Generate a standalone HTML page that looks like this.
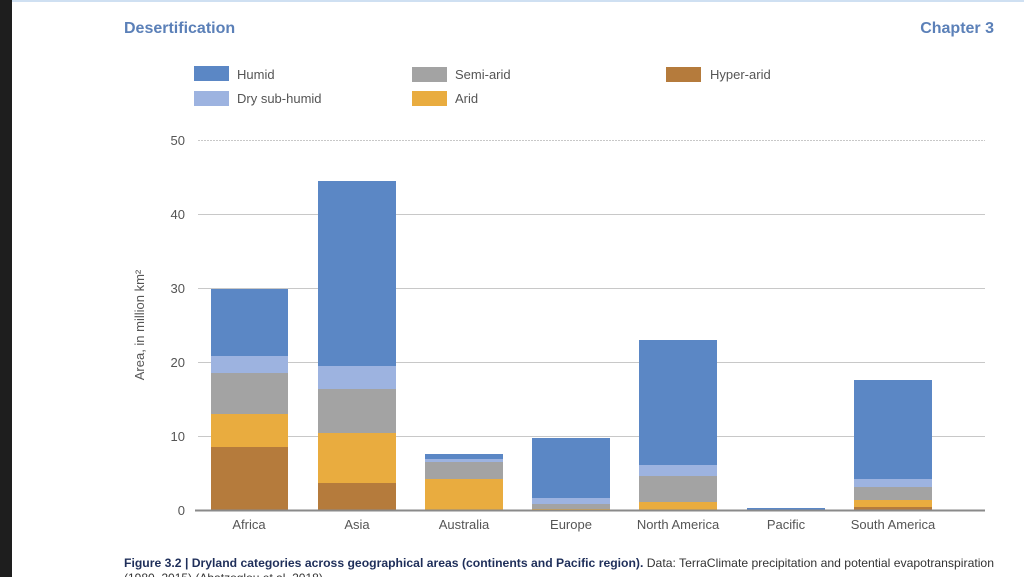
<!DOCTYPE html>
<html><head><style>
body{margin:0;background:#fff;}
svg{display:block;font-family:"Liberation Sans",sans-serif;}
</style></head><body>
<svg width="1024" height="577" viewBox="0 0 1024 577">
<rect width="1024" height="577" fill="#fff"/>
<rect x="0" y="0" width="12" height="577" fill="#1e1e1e"/>
<rect x="12" y="0" width="1012" height="2" fill="#cfe0f2"/>
<text x="124" y="33" font-size="16" font-weight="bold" fill="#5b80b8">Desertification</text>
<text x="994" y="33" font-size="16" font-weight="bold" fill="#5b80b8" text-anchor="end">Chapter 3</text>
<g font-size="13" fill="#555">
<rect x="194" y="66" width="35" height="15" fill="#5b87c5"/><text x="237" y="79">Humid</text>
<rect x="194" y="91" width="35" height="15" fill="#9db3e0"/><text x="237" y="103">Dry sub-humid</text>
<rect x="412" y="67" width="35" height="15" fill="#a3a3a3"/><text x="455" y="79">Semi-arid</text>
<rect x="412" y="91" width="35" height="15" fill="#e9ac3f"/><text x="455" y="103">Arid</text>
<rect x="666" y="67" width="35" height="15" fill="#b57b3c"/><text x="710" y="79">Hyper-arid</text>
</g>
<g stroke="#c8c8c8" stroke-width="1">
<line x1="198" y1="140.5" x2="985" y2="140.5" stroke-dasharray="2,1"/>
<line x1="198" y1="214.5" x2="985" y2="214.5"/>
<line x1="198" y1="288.5" x2="985" y2="288.5"/>
<line x1="198" y1="362.5" x2="985" y2="362.5"/>
<line x1="198" y1="436.5" x2="985" y2="436.5"/>
</g>
<g font-size="13" fill="#555" text-anchor="end">
<text x="185" y="145">50</text><text x="185" y="219">40</text><text x="185" y="293">30</text>
<text x="185" y="367">20</text><text x="185" y="441">10</text><text x="185" y="515">0</text>
</g>
<text transform="translate(144,325) rotate(-90)" font-size="13" fill="#555" text-anchor="middle">Area, in million km²</text>
<rect x="211" y="289" width="77" height="67" fill="#5b87c5"/>
<rect x="211" y="356" width="77" height="17" fill="#9db3e0"/>
<rect x="211" y="373" width="77" height="41" fill="#a3a3a3"/>
<rect x="211" y="414" width="77" height="33" fill="#e9ac3f"/>
<rect x="211" y="447" width="77" height="63" fill="#b57b3c"/>
<rect x="318" y="181" width="78" height="185" fill="#5b87c5"/>
<rect x="318" y="366" width="78" height="23" fill="#9db3e0"/>
<rect x="318" y="389" width="78" height="44" fill="#a3a3a3"/>
<rect x="318" y="433" width="78" height="50" fill="#e9ac3f"/>
<rect x="318" y="483" width="78" height="27" fill="#b57b3c"/>
<rect x="425" y="454" width="78" height="5" fill="#5b87c5"/>
<rect x="425" y="459" width="78" height="3" fill="#9db3e0"/>
<rect x="425" y="462" width="78" height="17" fill="#a3a3a3"/>
<rect x="425" y="479" width="78" height="31" fill="#e9ac3f"/>
<rect x="532" y="438" width="78" height="60" fill="#5b87c5"/>
<rect x="532" y="498" width="78" height="6" fill="#9db3e0"/>
<rect x="532" y="504" width="78" height="5" fill="#a3a3a3"/>
<rect x="532" y="509" width="78" height="1" fill="#e9ac3f"/>
<rect x="639" y="340" width="78" height="125" fill="#5b87c5"/>
<rect x="639" y="465" width="78" height="11" fill="#9db3e0"/>
<rect x="639" y="476" width="78" height="26" fill="#a3a3a3"/>
<rect x="639" y="502" width="78" height="8" fill="#e9ac3f"/>
<rect x="747" y="508" width="78" height="2" fill="#5b87c5"/>
<rect x="854" y="380" width="78" height="99" fill="#5b87c5"/>
<rect x="854" y="479" width="78" height="8" fill="#9db3e0"/>
<rect x="854" y="487" width="78" height="13" fill="#a3a3a3"/>
<rect x="854" y="500" width="78" height="7" fill="#e9ac3f"/>
<rect x="854" y="507" width="78" height="3" fill="#b57b3c"/>
<line x1="195" y1="510.5" x2="985" y2="510.5" stroke="#8a8a8a" stroke-width="2"/>
<g font-size="13" fill="#555" text-anchor="middle">
<text x="249" y="529">Africa</text><text x="357" y="529">Asia</text><text x="464" y="529">Australia</text>
<text x="571" y="529">Europe</text><text x="678" y="529">North America</text><text x="786" y="529">Pacific</text>
<text x="893" y="529">South America</text>
</g>
<text x="124" y="567" font-size="12" fill="#1f2f5a" textLength="870" lengthAdjust="spacingAndGlyphs"><tspan font-weight="bold">Figure 3.2 |  Dryland categories across geographical areas (continents and Pacific region).</tspan><tspan fill="#333"> Data: TerraClimate precipitation and potential evapotranspiration</tspan></text>
<text x="124" y="582" font-size="12" fill="#333">(1980–2015) (Abatzoglou et al. 2018)</text>
</svg>
</body></html>
